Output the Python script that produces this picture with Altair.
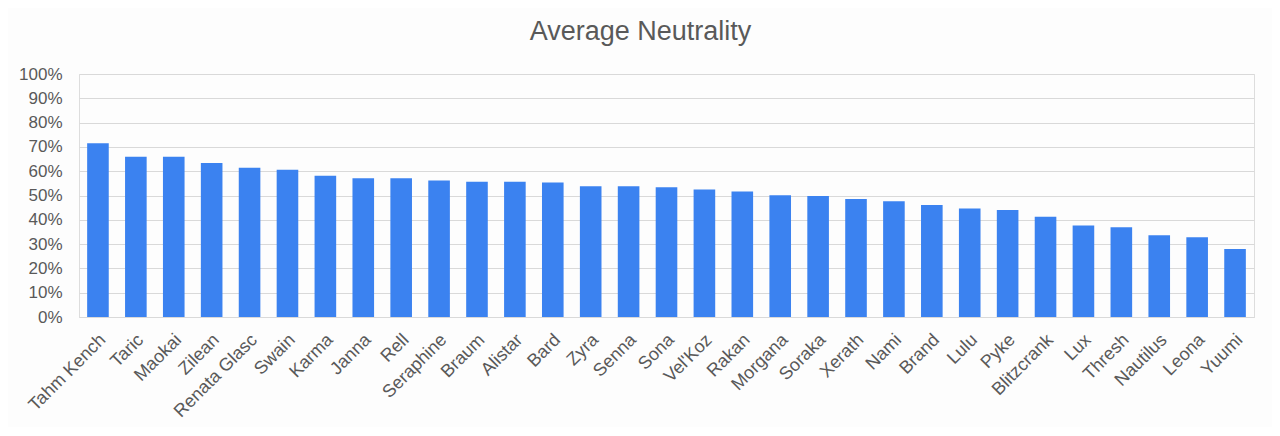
import altair as alt
import pandas as pd

champions = ["Tahm Kench", "Taric", "Maokai", "Zilean", "Renata Glasc", "Swain", "Karma",
             "Janna", "Rell", "Seraphine", "Braum", "Alistar", "Bard", "Zyra", "Senna",
             "Sona", "Vel'Koz", "Rakan", "Morgana", "Soraka", "Xerath", "Nami", "Brand",
             "Lulu", "Pyke", "Blitzcrank", "Lux", "Thresh", "Nautilus", "Leona", "Yuumi"]
neutrality = [0.715, 0.659, 0.659, 0.634, 0.614, 0.606, 0.581, 0.571, 0.571, 0.562, 0.557,
              0.557, 0.553, 0.538, 0.538, 0.534, 0.525, 0.516, 0.501, 0.498, 0.486, 0.476,
              0.461, 0.446, 0.440, 0.413, 0.377, 0.369, 0.336, 0.328, 0.280]
y_ticks = [0, 0.1, 0.2, 0.3, 0.4, 0.5, 0.6, 0.7, 0.8, 0.9, 1.0]

df = pd.DataFrame({"champion": champions, "value": neutrality})

FONT = "Liberation Sans"
GREY = "#595959"

chart = alt.Chart(df).mark_bar(color="#3B82F0").encode(
    x=alt.X("champion:N", sort=champions, title=None,
            scale=alt.Scale(paddingInner=0.43, paddingOuter=0.215),
            axis=alt.Axis(labelAngle=-45, labelAlign="right", labelBaseline="middle",
                          labelFontSize=18, labelColor=GREY, labelFont=FONT,
                          ticks=False, domainColor="#d9d9d9", labelPadding=20,
                          labelOffset=5, labelOverlap=False, labelBound=False)),
    y=alt.Y("value:Q", title=None,
            scale=alt.Scale(domain=[0, 1], nice=False),
            axis=alt.Axis(values=y_ticks, format=".0%", labelFontSize=17, labelColor=GREY,
                          labelFont=FONT, ticks=False, domain=False, gridColor="#d9d9d9",
                          labelPadding=17)),
).properties(
    width=1175, height=243,
    title=alt.TitleParams("Average Neutrality", fontSize=27, font=FONT, color=GREY,
                          fontWeight="normal", offset=19, dx=-26),
    padding={"left": 71, "top": 66, "right": 18, "bottom": 110},
    autosize=alt.AutoSizeParams(type="none"),
).configure_view(stroke=None).configure(background="#fdfdfd")

chart.save("out.html", embed_options={"renderer": "svg", "actions": False})
